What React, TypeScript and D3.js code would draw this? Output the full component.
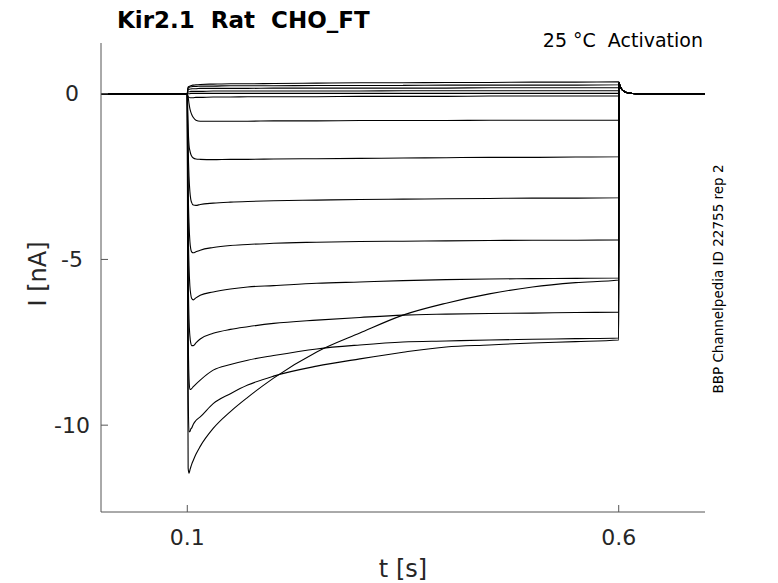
import * as d3 from 'd3'

const W = 778
const H = 583

// time axis ticks [s] and current ticks [nA]
const xTicks = [0.1, 0.6]
const yTicks = [0, -5, -10]

// holding segment before the step, samples during the step, tail after it
const holdTimes = [0, 0.0995]
const holdCurrent = [0, 0]
const pulseTimes = [0.1, 0.1005, 0.101, 0.102, 0.103, 0.104, 0.105, 0.107, 0.11, 0.115, 0.13, 0.15, 0.17, 0.2, 0.25, 0.3, 0.35, 0.4, 0.45, 0.5, 0.55, 0.6]
const tailTimes = [0.6004, 0.601, 0.602, 0.604, 0.607, 0.612, 0.62, 0.7]
const tailCurrent = [0.33, 0.27, 0.2, 0.12, 0.06, 0.02, 0, 0]

// currents [nA] on pulseTimes, one array per sweep
const sweep1 = [0, 0.15, 0.2, 0.22, 0.23, 0.24, 0.25, 0.26, 0.27, 0.28, 0.29, 0.3, 0.3, 0.31, 0.32, 0.33, 0.33, 0.34, 0.34, 0.35, 0.35, 0.36]
const sweep2 = [0, 0.12, 0.16, 0.19, 0.2, 0.21, 0.21, 0.22, 0.22, 0.23, 0.23, 0.24, 0.24, 0.24, 0.25, 0.25, 0.25, 0.26, 0.26, 0.26, 0.26, 0.27]
const sweep3 = [0, 0.08, 0.11, 0.13, 0.14, 0.14, 0.15, 0.15, 0.15, 0.16, 0.16, 0.16, 0.16, 0.17, 0.17, 0.17, 0.17, 0.17, 0.18, 0.18, 0.18, 0.18]
const sweep4 = [0, 0.04, 0.05, 0.06, 0.06, 0.07, 0.07, 0.07, 0.07, 0.07, 0.08, 0.08, 0.08, 0.08, 0.08, 0.08, 0.09, 0.09, 0.09, 0.09, 0.09, 0.09]
const sweep5 = [0, 0, 0, 0, 0, 0.01, 0.01, 0.01, 0.01, 0.01, 0.01, 0.01, 0.01, 0.01, 0.01, 0.01, 0.01, 0.01, 0.01, 0.01, 0.01, 0.01]
const sweep6 = [0, -0.06, -0.09, -0.11, -0.12, -0.12, -0.12, -0.12, -0.11, -0.11, -0.1, -0.1, -0.09, -0.09, -0.09, -0.08, -0.08, -0.08, -0.07, -0.07, -0.07, -0.07]
const sweep7 = [0, -0.05, -0.1, -0.3, -0.45, -0.55, -0.62, -0.72, -0.8, -0.83, -0.83, -0.83, -0.83, -0.82, -0.82, -0.81, -0.81, -0.81, -0.8, -0.8, -0.8, -0.8]
const sweep8 = [0, -0.5, -1.0, -1.55, -1.72, -1.82, -1.88, -1.94, -1.97, -1.98, -1.99, -1.98, -1.98, -1.97, -1.96, -1.95, -1.94, -1.93, -1.92, -1.92, -1.91, -1.9]
const sweep9 = [0, -0.9, -1.6, -2.5, -2.95, -3.18, -3.28, -3.36, -3.37, -3.34, -3.3, -3.27, -3.25, -3.23, -3.21, -3.19, -3.18, -3.17, -3.16, -3.15, -3.15, -3.14]
const sweep10 = [0, -1.6, -2.8, -3.9, -4.45, -4.68, -4.77, -4.8, -4.77, -4.72, -4.64, -4.58, -4.55, -4.51, -4.48, -4.46, -4.45, -4.44, -4.43, -4.42, -4.42, -4.41]
const sweep11 = [0, -2.2, -3.8, -5.2, -5.8, -6.05, -6.17, -6.22, -6.16, -6.08, -5.98, -5.89, -5.83, -5.79, -5.72, -5.68, -5.64, -5.61, -5.59, -5.58, -5.57, -5.56]
const sweep12 = [0, -3.0, -5.2, -6.8, -7.3, -7.52, -7.6, -7.6, -7.52, -7.4, -7.23, -7.11, -7.03, -6.93, -6.83, -6.75, -6.68, -6.65, -6.63, -6.62, -6.6, -6.59]
const sweep13 = [0, -4.0, -7.0, -8.6, -8.92, -8.92, -8.9, -8.84, -8.76, -8.64, -8.34, -8.17, -8.04, -7.9, -7.7, -7.58, -7.49, -7.46, -7.43, -7.41, -7.39, -7.37]
const sweep14 = [0, -5.5, -9.0, -10.2, -10.2, -10.12, -10.09, -9.97, -9.86, -9.75, -9.35, -9.05, -8.79, -8.52, -8.22, -8.0, -7.8, -7.64, -7.58, -7.52, -7.48, -7.43]
const sweep15 = [0, -8.0, -11.3, -11.45, -11.36, -11.27, -11.19, -11.06, -10.88, -10.64, -10.1, -9.59, -9.16, -8.58, -7.79, -7.22, -6.68, -6.32, -6.04, -5.83, -5.7, -5.62]

const sweeps = [sweep1, sweep2, sweep3, sweep4, sweep5, sweep6, sweep7, sweep8, sweep9, sweep10, sweep11, sweep12, sweep13, sweep14, sweep15]

const FONT = '"DejaVu Sans", sans-serif'
const AXIS = '#555'
const TEXT = '#262626'

export default function App() {
  const left = 101
  const right = 705
  const top = 43
  const bottom = 512

  const x = d3.scaleLinear().domain([0, 0.7]).range([left, right])
  const y = d3.scaleLinear().domain([-12.62, 1.53]).range([bottom, top])

  const line = d3
    .line<[number, number]>()
    .x(d => x(d[0]))
    .y(d => y(d[1]))
    .curve(d3.curveMonotoneX)

  const paths = sweeps.map(s => {
    const pts: [number, number][] = [
      ...holdTimes.map((t, i) => [t, holdCurrent[i]] as [number, number]),
      ...pulseTimes.map((t, i) => [t, s[i]] as [number, number]),
      ...tailTimes.map((t, i) => [t, tailCurrent[i]] as [number, number]),
    ]
    return line(pts) ?? ''
  })

  return (
    <div style={{ position: 'absolute', left: 0, top: 0 }}>
      <svg width={W} height={H} style={{ display: 'block', background: '#fff' }}>
        <text x={117} y={28} fontFamily={FONT} fontSize={23} fontWeight="bold" fill="#000" style={{ whiteSpace: 'pre' }}>
          {'Kir2.1  Rat  CHO_FT'}
        </text>
        <text x={703} y={47} fontFamily={FONT} fontSize={19} fill="#000" textAnchor="end" style={{ whiteSpace: 'pre' }}>
          {'25 °C  Activation'}
        </text>
        <text
          transform={`translate(718,279) rotate(-90)`}
          fontFamily={FONT}
          fontSize={13.5}
          fill="#000"
          textAnchor="middle"
          dominantBaseline="central"
        >
          BBP Channelpedia ID 22755 rep 2
        </text>

        <g fill="none" stroke="#000" strokeWidth={1.1} strokeLinejoin="round">
          {paths.map((d, i) => (
            <path key={i} d={d} />
          ))}
        </g>

        {/* axes */}
        <line x1={left} x2={left} y1={top} y2={bottom} stroke={AXIS} />
        <line x1={left} x2={right} y1={bottom} y2={bottom} stroke={AXIS} />
        {yTicks.map(v => (
          <g key={v}>
            <line x1={left} x2={left + 7} y1={y(v)} y2={y(v)} stroke={AXIS} />
            <text x={72} y={y(v)} fontFamily={FONT} fontSize={22} fill={TEXT} textAnchor="middle" dominantBaseline="central">
              {d3.format('')(v).replace('−', '-')}
            </text>
          </g>
        ))}
        {xTicks.map(v => (
          <g key={v}>
            <line x1={x(v)} x2={x(v)} y1={bottom} y2={bottom - 7} stroke={AXIS} />
            <text x={x(v)} y={545} fontFamily={FONT} fontSize={22} fill={TEXT} textAnchor="middle">
              {v}
            </text>
          </g>
        ))}
        <text x={(left + right) / 2} y={577} fontFamily={FONT} fontSize={24} fill={TEXT} textAnchor="middle">
          t [s]
        </text>
        <text
          transform={`translate(38,274) rotate(-90)`}
          fontFamily={FONT}
          fontSize={24}
          fill={TEXT}
          textAnchor="middle"
          dominantBaseline="central"
        >
          I [nA]
        </text>
      </svg>
    </div>
  )
}
